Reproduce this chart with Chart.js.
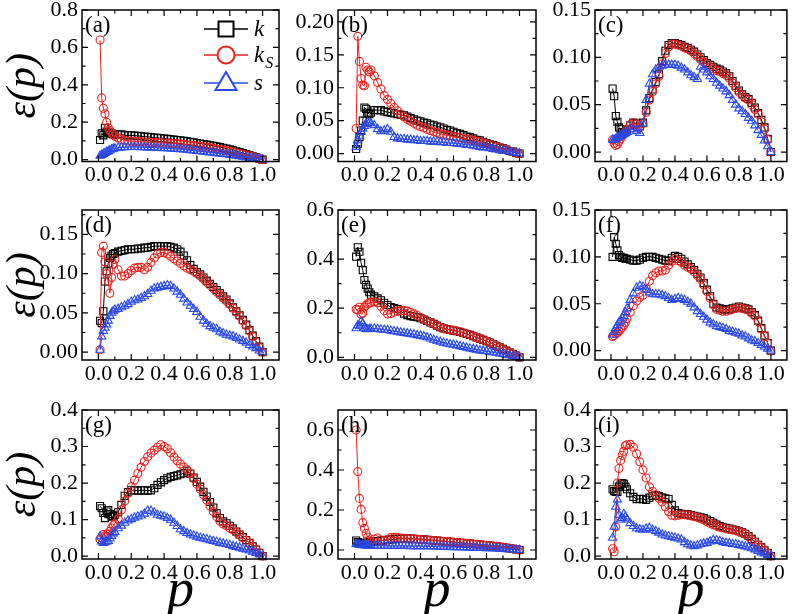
<!DOCTYPE html>
<html><head><meta charset="utf-8">
<script src="https://cdn.jsdelivr.net/npm/chart.js@4.4.1/dist/chart.umd.min.js"></script>
<style>
html,body{margin:0;padding:0;background:#fff;}
#wrap{position:relative;width:793px;height:614px;overflow:hidden;background:#fff;}
#wrap canvas{position:absolute;left:0;top:0;}
</style></head><body><div id="wrap"></div>
<script>
// ---------- shared x values (p) ----------
const P = [0.01,0.02,0.03,0.04,0.05,0.06,0.07,0.08,0.09,0.10,
  0.12,0.14,0.16,0.18,0.20, 0.22,0.24,0.26,0.28,0.30,
  0.32,0.34,0.36,0.38,0.40, 0.42,0.44,0.46,0.48,0.50,
  0.52,0.54,0.56,0.58,0.60, 0.62,0.64,0.66,0.68,0.70,
  0.72,0.74,0.76,0.78,0.80, 0.82,0.84,0.86,0.88,0.90,
  0.92,0.94,0.96,0.98,1.00];

const xTickValues = [0,0.2,0.4,0.6,0.8,1.0];
const xTickLabels = ['0.0','0.2','0.4','0.6','0.8','1.0'];
const xMinorTicks = [0.1,0.3,0.5,0.7,0.9];
const xRange = [-0.1, 1.1];

const seriesKeys = ['k','kS','s'];
const legendMain = ['k','k','s'];
const legendSub = ['','S',''];
const panelLabels = ['(a)','(b)','(c)','(d)','(e)','(f)','(g)','(h)','(i)'];
const yTitle = 'ε(p)';
const xTitle = 'p';

// ---------- (a) ----------
const a_k = [0.105,0.14,0.13,0.17,0.15, 0.145,0.14,0.14,0.135,0.135,
 0.135,0.135,0.13,0.13,0.13, 0.128,0.127,0.125,0.123,0.122,
 0.12,0.118,0.116,0.115,0.113, 0.111,0.109,0.107,0.105,0.103,
 0.1,0.098,0.095,0.092,0.089, 0.086,0.083,0.08,0.077,0.074,
 0.071,0.067,0.063,0.059,0.055, 0.05,0.045,0.04,0.035,0.03,
 0.024,0.018,0.012,0.006,0.0];
const a_kS = [0.64,0.33,0.275,0.245,0.2, 0.17,0.155,0.145,0.135,0.125,
 0.115,0.108,0.104,0.1,0.098, 0.097,0.096,0.095,0.094,0.093,
 0.092,0.091,0.09,0.09,0.089, 0.088,0.087,0.086,0.085,0.083,
 0.081,0.079,0.077,0.075,0.073, 0.071,0.068,0.066,0.063,0.06,
 0.057,0.054,0.051,0.048,0.045, 0.041,0.037,0.033,0.029,0.025,
 0.02,0.015,0.01,0.005,0.0];
const a_s = [0.02,0.025,0.03,0.035,0.04, 0.045,0.05,0.055,0.058,0.06,
 0.063,0.065,0.066,0.067,0.067, 0.067,0.067,0.066,0.066,0.065,
 0.065,0.064,0.063,0.062,0.061, 0.06,0.059,0.058,0.057,0.055,
 0.054,0.052,0.05,0.048,0.046, 0.044,0.042,0.04,0.038,0.036,
 0.034,0.032,0.03,0.028,0.026, 0.024,0.021,0.018,0.015,0.012,
 0.01,0.008,0.005,0.003,0.0];
const a_yTicks = [0,0.2,0.4,0.6,0.8];
const a_yLabels = ['0.0','0.2','0.4','0.6','0.8'];
const a_yMinor = [0.1,0.3,0.5,0.7];
const a_yRange = [-0.01,0.8];

// ---------- (b) ----------
const b_k = [0.007,0.015,0.025,0.035,0.05, 0.07,0.068,0.062,0.06,0.062,
 0.066,0.066,0.066,0.064,0.063, 0.062,0.061,0.06,0.059,0.058,
 0.056,0.054,0.052,0.05,0.049, 0.047,0.046,0.044,0.043,0.041,
 0.04,0.038,0.036,0.035,0.033, 0.031,0.03,0.028,0.026,0.025,
 0.023,0.021,0.02,0.018,0.016, 0.014,0.013,0.011,0.009,0.008,
 0.006,0.004,0.003,0.001,0.0];
const b_kS = [0.038,0.178,0.14,0.114,0.104, 0.103,0.131,0.127,0.124,0.127,
 0.118,0.108,0.098,0.088,0.082, 0.076,0.07,0.065,0.06,0.056,
 0.052,0.049,0.046,0.043,0.041, 0.039,0.037,0.035,0.033,0.032,
 0.03,0.029,0.028,0.027,0.026, 0.025,0.024,0.023,0.022,0.021,
 0.02,0.019,0.018,0.016,0.015, 0.013,0.012,0.01,0.009,0.007,
 0.006,0.004,0.003,0.001,0.0];
const b_s = [0.01,0.02,0.027,0.033,0.038, 0.042,0.045,0.047,0.047,0.046,
 0.043,0.037,0.034,0.035,0.037, 0.033,0.025,0.023,0.022,0.022,
 0.021,0.021,0.02,0.02,0.019, 0.019,0.019,0.018,0.018,0.018,
 0.017,0.017,0.016,0.016,0.016, 0.015,0.015,0.014,0.013,0.013,
 0.012,0.011,0.01,0.009,0.009, 0.008,0.007,0.006,0.005,0.004,
 0.004,0.003,0.002,0.001,0.0];
const b_yTicks = [0,0.05,0.1,0.15,0.2];
const b_yLabels = ['0.00','0.05','0.10','0.15','0.20'];
const b_yMinor = [0.025,0.075,0.125,0.175];
const b_yRange = [-0.012,0.218];

// ---------- (c) ----------
const c_k = [0.067,0.059,0.038,0.032,0.026, 0.024,0.021,0.02,0.021,0.023,
 0.028,0.031,0.03,0.027,0.031, 0.044,0.057,0.066,0.074,0.082,
 0.096,0.107,0.113,0.115,0.115, 0.114,0.113,0.111,0.11,0.108,
 0.106,0.103,0.1,0.097,0.094, 0.092,0.09,0.088,0.087,0.085,
 0.083,0.08,0.075,0.07,0.065, 0.061,0.058,0.056,0.052,0.047,
 0.041,0.034,0.026,0.014,0.0];
const c_kS = [0.013,0.009,0.007,0.008,0.011, 0.014,0.017,0.019,0.021,0.024,
 0.029,0.031,0.029,0.026,0.03, 0.042,0.055,0.064,0.072,0.08,
 0.093,0.104,0.111,0.114,0.114, 0.113,0.112,0.11,0.109,0.107,
 0.104,0.101,0.098,0.095,0.093, 0.09,0.088,0.086,0.085,0.083,
 0.081,0.078,0.073,0.068,0.063, 0.06,0.057,0.055,0.05,0.045,
 0.04,0.032,0.024,0.013,0.0];
const c_s = [0.013,0.013,0.014,0.015,0.016, 0.017,0.018,0.019,0.02,0.021,
 0.024,0.024,0.022,0.02,0.03, 0.055,0.072,0.082,0.087,0.09,
 0.091,0.092,0.092,0.092,0.092, 0.091,0.089,0.087,0.084,0.081,
 0.079,0.077,0.09,0.087,0.084, 0.08,0.077,0.073,0.07,0.067,
 0.064,0.06,0.055,0.05,0.046, 0.043,0.04,0.036,0.033,0.028,
 0.023,0.018,0.012,0.006,0.0];
const c_yTicks = [0,0.05,0.1,0.15];
const c_yLabels = ['0.00','0.05','0.10','0.15'];
const c_yMinor = [0.025,0.075,0.125];
const c_yRange = [-0.01,0.15];

// ---------- (d) ----------
const d_k = [0.04,0.037,0.052,0.09,0.103, 0.113,0.12,0.123,0.125,0.126,
 0.128,0.129,0.13,0.131,0.131, 0.131,0.132,0.132,0.133,0.133,
 0.134,0.135,0.135,0.135,0.135, 0.135,0.134,0.133,0.131,0.128,
 0.123,0.117,0.111,0.106,0.102, 0.099,0.095,0.091,0.087,0.083,
 0.079,0.075,0.071,0.067,0.062, 0.057,0.052,0.047,0.041,0.035,
 0.028,0.021,0.014,0.007,0.0];
const d_kS = [0.003,0.127,0.135,0.115,0.1, 0.09,0.075,0.095,0.112,0.118,
 0.105,0.097,0.097,0.1,0.104, 0.107,0.108,0.108,0.105,0.108,
 0.114,0.12,0.125,0.127,0.127, 0.125,0.122,0.119,0.116,0.113,
 0.11,0.107,0.105,0.103,0.1, 0.097,0.093,0.089,0.085,0.081,
 0.077,0.073,0.069,0.065,0.061, 0.056,0.051,0.046,0.04,0.034,
 0.027,0.02,0.013,0.006,0.0];
const d_s = [0.003,0.02,0.027,0.031,0.035, 0.04,0.046,0.05,0.052,0.054,
 0.055,0.057,0.059,0.061,0.064, 0.066,0.067,0.069,0.071,0.074,
 0.078,0.081,0.082,0.083,0.084, 0.085,0.084,0.081,0.077,0.073,
 0.068,0.063,0.059,0.055,0.051, 0.045,0.04,0.036,0.033,0.031,
 0.029,0.026,0.024,0.022,0.021, 0.02,0.018,0.016,0.014,0.012,
 0.009,0.007,0.005,0.002,0.0];
const d_yTicks = [0,0.05,0.1,0.15];
const d_yLabels = ['0.00','0.05','0.10','0.15'];
const d_yMinor = [0.025,0.075,0.125,0.175];
const d_yRange = [-0.01,0.181];

// ---------- (e) ----------
const e_k = [0.41,0.448,0.43,0.385,0.355, 0.315,0.295,0.28,0.265,0.255,
 0.248,0.24,0.232,0.222,0.213, 0.205,0.2,0.196,0.188,0.178,
 0.172,0.168,0.166,0.163,0.159, 0.154,0.148,0.142,0.136,0.129,
 0.123,0.118,0.115,0.112,0.109, 0.106,0.103,0.099,0.095,0.091,
 0.086,0.081,0.076,0.071,0.066, 0.06,0.054,0.047,0.041,0.034,
 0.027,0.02,0.013,0.007,0.0];
const e_kS = [0.196,0.193,0.204,0.175,0.18, 0.205,0.212,0.218,0.221,0.223,
 0.226,0.222,0.208,0.19,0.176, 0.178,0.184,0.188,0.19,0.19,
 0.188,0.183,0.177,0.17,0.162, 0.156,0.149,0.142,0.136,0.129,
 0.122,0.117,0.114,0.112,0.11, 0.107,0.104,0.1,0.096,0.092,
 0.087,0.081,0.076,0.071,0.066, 0.06,0.053,0.047,0.04,0.034,
 0.027,0.02,0.013,0.007,0.0];
const e_s = [0.118,0.13,0.126,0.146,0.138, 0.12,0.115,0.114,0.115,0.116,
 0.117,0.115,0.113,0.112,0.111, 0.108,0.106,0.104,0.101,0.099,
 0.097,0.095,0.093,0.09,0.088, 0.085,0.081,0.076,0.071,0.067,
 0.063,0.059,0.056,0.053,0.051, 0.048,0.045,0.042,0.039,0.036,
 0.033,0.031,0.028,0.026,0.024, 0.022,0.02,0.018,0.015,0.013,
 0.01,0.008,0.005,0.003,0.0];
const e_yTicks = [0,0.2,0.4,0.6];
const e_yLabels = ['0.0','0.2','0.4','0.6'];
const e_yMinor = [0.1,0.3,0.5];
const e_yRange = [-0.011,0.6];

// ---------- (f) ----------
const f_k = [0.1,0.121,0.114,0.107,0.102, 0.1,0.099,0.099,0.098,0.098,
 0.097,0.096,0.096,0.097,0.099, 0.1,0.1,0.1,0.099,0.098,
 0.097,0.096,0.096,0.099,0.101, 0.1,0.098,0.095,0.092,0.089,
 0.086,0.082,0.078,0.072,0.065, 0.058,0.05,0.046,0.045,0.044,
 0.044,0.044,0.045,0.046,0.047, 0.046,0.045,0.044,0.041,0.038,
 0.032,0.024,0.016,0.008,0.0];
const f_kS = [0.015,0.016,0.018,0.019,0.021, 0.023,0.025,0.027,0.03,0.034,
 0.041,0.048,0.053,0.057,0.059, 0.066,0.074,0.08,0.083,0.085,
 0.085,0.086,0.091,0.095,0.098, 0.096,0.094,0.091,0.089,0.087,
 0.084,0.08,0.076,0.07,0.063, 0.056,0.049,0.044,0.043,0.042,
 0.042,0.043,0.044,0.045,0.046, 0.045,0.044,0.043,0.04,0.037,
 0.031,0.023,0.015,0.008,0.0];
const f_s = [0.017,0.02,0.024,0.027,0.03, 0.032,0.035,0.037,0.041,0.045,
 0.054,0.061,0.067,0.069,0.068, 0.065,0.062,0.06,0.06,0.06,
 0.059,0.058,0.056,0.054,0.055, 0.056,0.055,0.054,0.052,0.05,
 0.046,0.042,0.039,0.036,0.033, 0.03,0.028,0.026,0.025,0.024,
 0.023,0.021,0.02,0.019,0.018, 0.016,0.015,0.013,0.011,0.01,
 0.008,0.006,0.004,0.002,0.0];
const f_yTicks = [0,0.05,0.1,0.15];
const f_yLabels = ['0.00','0.05','0.10','0.15'];
const f_yMinor = [0.025,0.075,0.125];
const f_yRange = [-0.01,0.15];

// ---------- (g) ----------
const g_k = [0.137,0.131,0.118,0.104,0.122, 0.126,0.115,0.108,0.11,0.113,
 0.12,0.14,0.165,0.175,0.18, 0.18,0.179,0.18,0.18,0.179,
 0.18,0.186,0.195,0.202,0.208, 0.213,0.217,0.219,0.221,0.224,
 0.227,0.232,0.226,0.215,0.203, 0.19,0.176,0.163,0.148,0.133,
 0.117,0.104,0.095,0.09,0.083, 0.075,0.067,0.059,0.052,0.044,
 0.036,0.027,0.018,0.009,0.0];
const g_kS = [0.045,0.05,0.059,0.056,0.054, 0.06,0.068,0.077,0.083,0.089,
 0.102,0.126,0.151,0.172,0.19, 0.208,0.226,0.243,0.259,0.272,
 0.282,0.29,0.298,0.305,0.3, 0.294,0.283,0.271,0.261,0.252,
 0.244,0.236,0.226,0.212,0.197, 0.183,0.168,0.153,0.137,0.122,
 0.108,0.096,0.088,0.083,0.077, 0.072,0.065,0.058,0.05,0.043,
 0.035,0.026,0.018,0.009,0.0];
const g_s = [0.054,0.04,0.036,0.038,0.04, 0.041,0.048,0.055,0.062,0.066,
 0.076,0.083,0.091,0.097,0.101, 0.105,0.108,0.111,0.116,0.124,
 0.124,0.119,0.113,0.11,0.108, 0.104,0.099,0.091,0.082,0.073,
 0.068,0.063,0.059,0.056,0.053, 0.05,0.048,0.046,0.043,0.041,
 0.039,0.036,0.034,0.032,0.03, 0.027,0.025,0.023,0.02,0.018,
 0.015,0.012,0.008,0.004,0.0];
const g_yTicks = [0,0.1,0.2,0.3,0.4];
const g_yLabels = ['0.0','0.1','0.2','0.3','0.4'];
const g_yMinor = [0.05,0.15,0.25,0.35];
const g_yRange = [-0.008,0.4];

// ---------- (h) ----------
const h_k = [0.047,0.04,0.036,0.034,0.033, 0.034,0.036,0.038,0.04,0.041,
 0.043,0.045,0.047,0.049,0.051, 0.053,0.054,0.055,0.056,0.057,
 0.057,0.057,0.056,0.055,0.054, 0.053,0.051,0.05,0.048,0.047,
 0.045,0.044,0.042,0.041,0.039, 0.038,0.036,0.035,0.033,0.032,
 0.03,0.029,0.027,0.025,0.024, 0.022,0.02,0.018,0.016,0.014,
 0.011,0.009,0.006,0.003,0.0];
const h_kS = [0.6,0.392,0.258,0.203,0.137, 0.108,0.083,0.065,0.05,0.042,
 0.055,0.06,0.05,0.045,0.052, 0.062,0.063,0.062,0.06,0.058,
 0.057,0.056,0.055,0.054,0.052, 0.051,0.05,0.049,0.047,0.046,
 0.045,0.043,0.042,0.041,0.039, 0.038,0.036,0.035,0.033,0.032,
 0.03,0.029,0.027,0.025,0.024, 0.022,0.02,0.018,0.016,0.014,
 0.011,0.009,0.006,0.003,0.0];
const h_s = [0.03,0.028,0.026,0.025,0.024, 0.023,0.022,0.022,0.021,0.021,
 0.021,0.021,0.021,0.021,0.02, 0.02,0.02,0.02,0.02,0.02,
 0.02,0.019,0.019,0.019,0.019, 0.018,0.018,0.018,0.017,0.017,
 0.016,0.016,0.015,0.015,0.014, 0.014,0.013,0.013,0.012,0.012,
 0.011,0.011,0.01,0.01,0.009, 0.008,0.008,0.007,0.006,0.005,
 0.004,0.003,0.002,0.001,0.0];
const h_yTicks = [0,0.2,0.4,0.6];
const h_yLabels = ['0.0','0.2','0.4','0.6'];
const h_yMinor = [0.1,0.3,0.5];
const h_yRange = [-0.045,0.7];

// ---------- (i) ----------
const i_k = [0.183,0.178,0.176,0.176,0.19, 0.196,0.2,0.198,0.19,0.183,
 0.172,0.162,0.156,0.157,0.156, 0.154,0.16,0.165,0.167,0.164,
 0.161,0.158,0.156,0.14,0.125, 0.118,0.116,0.115,0.114,0.112,
 0.11,0.108,0.106,0.104,0.1, 0.096,0.091,0.086,0.082,0.079,
 0.077,0.075,0.073,0.071,0.068, 0.065,0.061,0.055,0.047,0.039,
 0.031,0.024,0.016,0.008,0.0];
const i_kS = [0.02,0.012,0.08,0.2,0.24, 0.262,0.276,0.287,0.302,0.305,
 0.306,0.298,0.28,0.258,0.236, 0.214,0.19,0.177,0.168,0.158,
 0.148,0.135,0.122,0.112,0.11, 0.112,0.113,0.113,0.112,0.11,
 0.108,0.106,0.103,0.099,0.094, 0.09,0.086,0.082,0.079,0.077,
 0.075,0.073,0.072,0.07,0.067, 0.064,0.06,0.053,0.045,0.038,
 0.03,0.023,0.015,0.008,0.0];
const i_s = [0.05,0.08,0.135,0.155,0.113, 0.1,0.104,0.115,0.108,0.1,
 0.09,0.082,0.076,0.073,0.072, 0.075,0.077,0.072,0.068,0.064,
 0.059,0.056,0.054,0.052,0.05, 0.048,0.045,0.038,0.032,0.029,
 0.027,0.029,0.032,0.034,0.036, 0.04,0.044,0.043,0.041,0.038,
 0.036,0.035,0.033,0.032,0.03, 0.028,0.026,0.024,0.021,0.018,
 0.014,0.01,0.007,0.003,0.0];
const i_yTicks = [0,0.1,0.2,0.3,0.4];
const i_yLabels = ['0.0','0.1','0.2','0.3','0.4'];
const i_yMinor = [0.05,0.15,0.25,0.35];
const i_yRange = [-0.008,0.4];

// ---------- layout & style (kept apart from data) ----------
const colLeft = [82, 338, 595], colRight = [279, 536, 790];
const rowTop = [10, 210, 410], rowBottom = [161.5, 360, 559];
const COLORS = {k:'#000000', kS:'rgb(232,34,30)', s:'rgb(40,72,232)'};
const MARK = {k:{style:'rect', r:5}, kS:{style:'circle', r:4}, s:{style:'triangle', r:4.8}};
const ORDER = {k:3, kS:2, s:1};
const SERIF = '"Liberation Serif","Times New Roman",serif';
const TICK_FONT = 22;

Chart.defaults.font.family = SERIF;
Chart.defaults.color = '#000';

const panels = [
  {k:a_k,kS:a_kS,s:a_s,yTicks:a_yTicks,yLabels:a_yLabels,yMinor:a_yMinor,yRange:a_yRange,legend:true},
  {k:b_k,kS:b_kS,s:b_s,yTicks:b_yTicks,yLabels:b_yLabels,yMinor:b_yMinor,yRange:b_yRange},
  {k:c_k,kS:c_kS,s:c_s,yTicks:c_yTicks,yLabels:c_yLabels,yMinor:c_yMinor,yRange:c_yRange},
  {k:d_k,kS:d_kS,s:d_s,yTicks:d_yTicks,yLabels:d_yLabels,yMinor:d_yMinor,yRange:d_yRange},
  {k:e_k,kS:e_kS,s:e_s,yTicks:e_yTicks,yLabels:e_yLabels,yMinor:e_yMinor,yRange:e_yRange},
  {k:f_k,kS:f_kS,s:f_s,yTicks:f_yTicks,yLabels:f_yLabels,yMinor:f_yMinor,yRange:f_yRange},
  {k:g_k,kS:g_kS,s:g_s,yTicks:g_yTicks,yLabels:g_yLabels,yMinor:g_yMinor,yRange:g_yRange},
  {k:h_k,kS:h_kS,s:h_s,yTicks:h_yTicks,yLabels:h_yLabels,yMinor:h_yMinor,yRange:h_yRange},
  {k:i_k,kS:i_kS,s:i_s,yTicks:i_yTicks,yLabels:i_yLabels,yMinor:i_yMinor,yRange:i_yRange}
];

function drawLegend(ctx, a) {
  const rowsY = [19, 45, 73];
  seriesKeys.forEach((key, i) => {
    const y = a.top + rowsY[i];
    const cx = a.left + 144;
    ctx.strokeStyle = COLORS[key];
    ctx.lineWidth = 1.5;
    ctx.beginPath(); ctx.moveTo(a.left + 122, y); ctx.lineTo(a.left + 166, y); ctx.stroke();
    ctx.lineWidth = 2;
    ctx.fillStyle = '#fff';
    ctx.beginPath();
    if (key === 'k') ctx.rect(cx - 7.5, y - 7.5, 15, 15);
    else if (key === 'kS') ctx.arc(cx, y, 8.5, 0, Math.PI * 2);
    else { ctx.moveTo(cx, y - 11); ctx.lineTo(cx + 10.5, y + 7); ctx.lineTo(cx - 10.5, y + 7); ctx.closePath(); }
    ctx.fill(); ctx.stroke();
    ctx.fillStyle = '#000';
    ctx.textAlign = 'left'; ctx.textBaseline = 'alphabetic';
    ctx.font = 'italic 23px ' + SERIF;
    ctx.fillText(legendMain[i], a.left + 172, y + 7);
    if (legendSub[i]) {
      const w = ctx.measureText(legendMain[i]).width;
      ctx.font = 'italic 16px ' + SERIF;
      ctx.fillText(legendSub[i], a.left + 172 + w + 1, y + 13);
    }
  });
}

const framePlugin = {
  id: 'frame',
  afterDraw(chart) {
    const pn = chart.canvas._spec;
    const {ctx, chartArea: a} = chart;
    const xs = chart.scales.x, ys = chart.scales.y;
    ctx.save();
    ctx.strokeStyle = '#000';
    ctx.lineWidth = 1.5;
    ctx.strokeRect(a.left, a.top, a.right - a.left, a.bottom - a.top);
    ctx.lineWidth = 1.2;
    ctx.beginPath();
    const tick = (vals, len, isX) => vals.forEach(v => {
      if (isX) {
        const px = xs.getPixelForValue(v);
        ctx.moveTo(px, a.bottom); ctx.lineTo(px, a.bottom - len);
        ctx.moveTo(px, a.top); ctx.lineTo(px, a.top + len);
      } else {
        const py = ys.getPixelForValue(v);
        ctx.moveTo(a.left, py); ctx.lineTo(a.left + len, py);
        ctx.moveTo(a.right, py); ctx.lineTo(a.right - len, py);
      }
    });
    tick(xTickValues, 6, true); tick(xMinorTicks, 3.5, true);
    tick(pn.yTicks, 6, false); tick(pn.yMinor, 3.5, false);
    ctx.stroke();
    ctx.fillStyle = '#000';
    ctx.font = '23px ' + SERIF;
    ctx.textAlign = 'left'; ctx.textBaseline = 'alphabetic';
    ctx.fillText(pn.label, a.left + 3, a.top + 22);
    if (pn.legend) drawLegend(ctx, a);
    ctx.restore();
  }
};

function makePanel(idx, pn) {
  const col = idx % 3, row = Math.floor(idx / 3);
  const L = colLeft[col], R = colRight[col], T = rowTop[row], B = rowBottom[row];
  const yW = col === 0 ? L : 60;
  const xH = row === 2 ? 614 - B : 30;
  pn.label = panelLabels[idx];
  const cv = document.createElement('canvas');
  cv.width = 793; cv.height = 614;
  cv._spec = pn;
  document.getElementById('wrap').appendChild(cv);
  const zero = s => { s.paddingLeft = 0; s.paddingRight = 0; s.paddingTop = 0; s.paddingBottom = 0; };
  const mk = key => ({
    label: key,
    data: P.map((p, j) => ({x: p, y: pn[key][j]})),
    borderColor: COLORS[key], backgroundColor: 'rgba(0,0,0,0)',
    pointBorderColor: COLORS[key], pointBackgroundColor: 'rgba(255,255,255,0)',
    pointStyle: MARK[key].style, pointRadius: MARK[key].r, pointBorderWidth: 1.1,
    borderWidth: 1, tension: 0, order: ORDER[key], clip: false, fill: false
  });
  new Chart(cv, {
    type: 'line',
    data: {datasets: seriesKeys.map(mk)},
    options: {
      responsive: false, animation: false, devicePixelRatio: 1, events: [],
      layout: {padding: {left: L - yW, right: 793 - R, top: T, bottom: 614 - B - xH}},
      plugins: {legend: {display: false}, tooltip: {enabled: false}},
      scales: {
        x: {
          type: 'linear', position: 'bottom', min: xRange[0], max: xRange[1],
          afterBuildTicks: s => { s.ticks = xTickValues.map(v => ({value: v})); },
          afterFit: s => { s.height = xH; zero(s); },
          ticks: {autoSkip: false, maxRotation: 0, minRotation: 0, padding: 3,
                  font: {size: TICK_FONT, lineHeight: 1}, callback: (v, i) => xTickLabels[i]},
          grid: {display: false, drawTicks: false}, border: {display: false},
          title: {display: row === 2, text: xTitle,
                  font: {size: 54, style: 'italic', lineHeight: 0.8}, padding: {top: 0, bottom: 1}}
        },
        y: {
          type: 'linear', position: 'left', min: pn.yRange[0], max: pn.yRange[1],
          afterBuildTicks: s => { s.ticks = pn.yTicks.map(v => ({value: v})); },
          afterFit: s => { s.width = yW; zero(s); },
          ticks: {autoSkip: false, padding: 4, font: {size: TICK_FONT, lineHeight: 1},
                  callback: (v, i) => pn.yLabels[i]},
          grid: {display: false, drawTicks: false}, border: {display: false},
          title: {display: col === 0, text: yTitle,
                  font: {size: 42, style: 'italic', lineHeight: 1}, padding: {top: 3, bottom: 0}}
        }
      }
    },
    plugins: [framePlugin]
  });
}

panels.forEach((pn, i) => makePanel(i, pn));
</script>
</body></html>
